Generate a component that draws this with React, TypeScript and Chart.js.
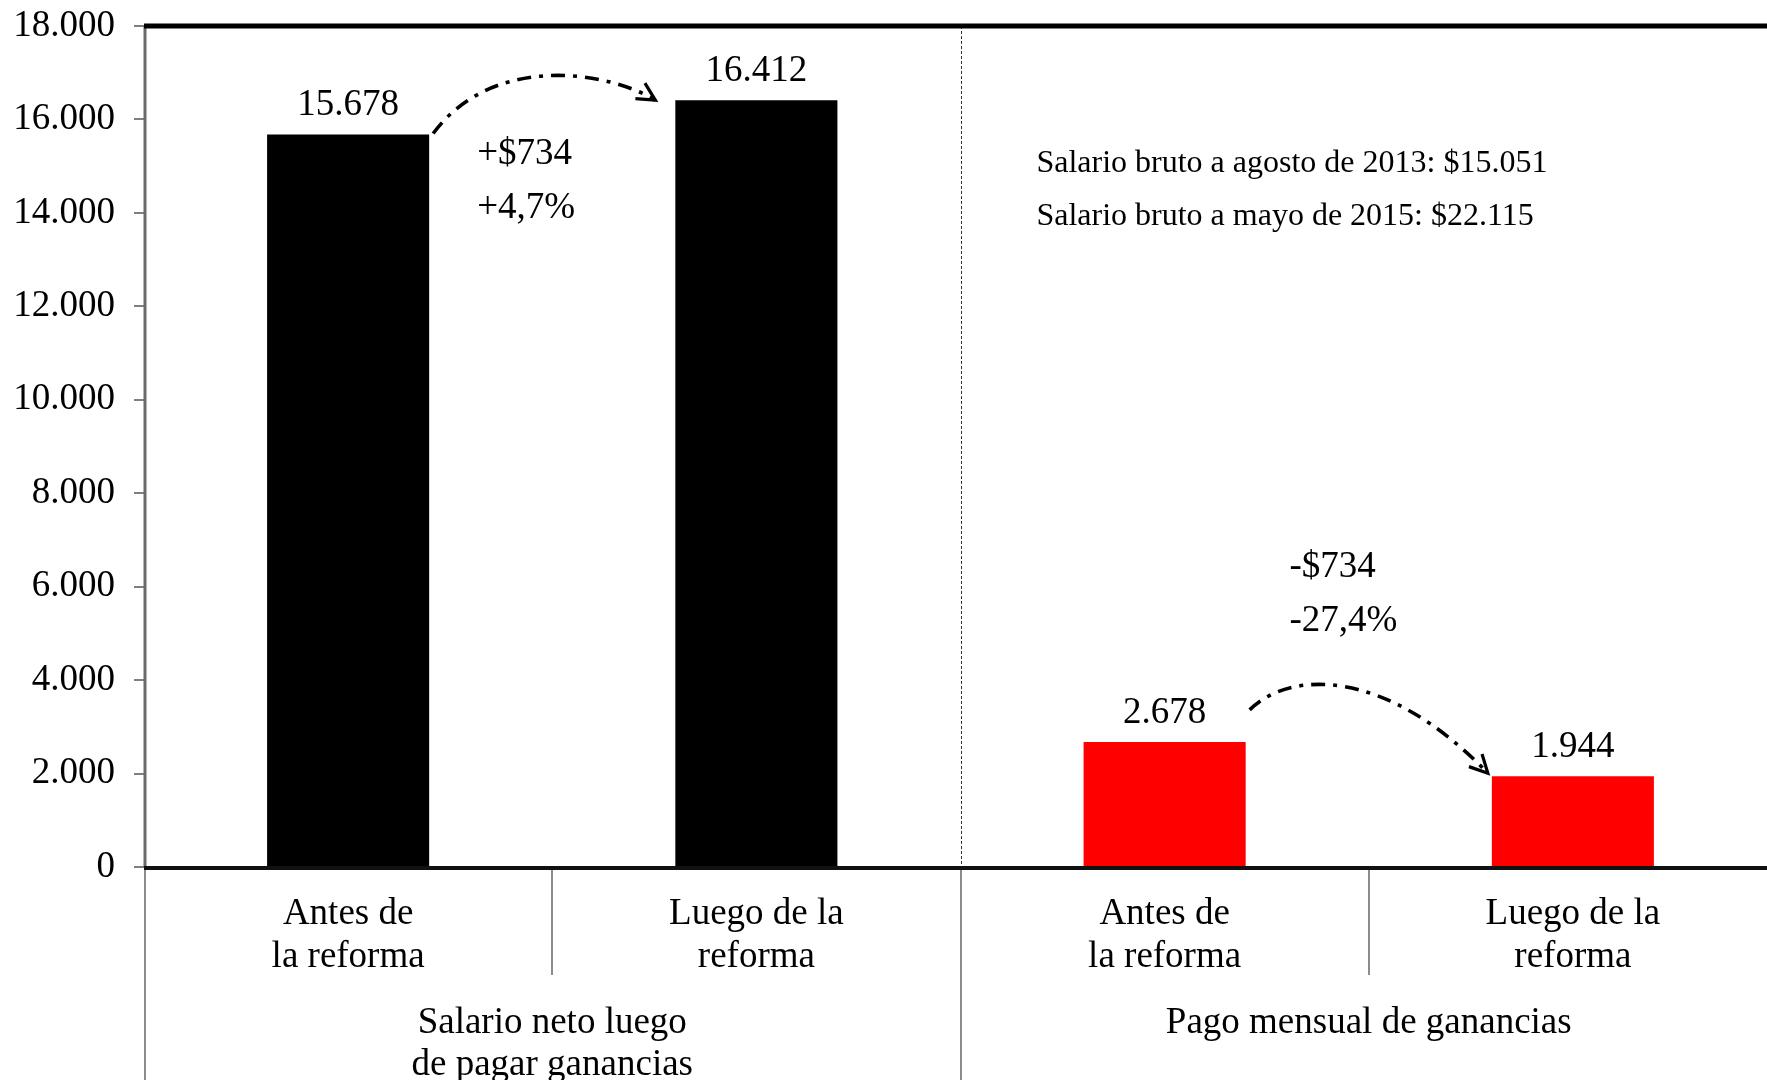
import React, { useEffect, useRef } from "react";
import { Chart, registerables } from "chart.js";

Chart.register(...registerables);

// ---- data ----
const categories: string[][] = [
  ["Antes de", "la reforma"],
  ["Luego de la", "reforma"],
  ["Antes de", "la reforma"],
  ["Luego de la", "reforma"],
];
const values: number[] = [15678, 16412, 2678, 1944];
const barColors: string[] = ["#000000", "#000000", "#FF0000", "#FF0000"];
const yTicksMax = 18000;
const yTicksStep = 2000;
const groupLabels: string[][] = [
  ["Salario neto luego", "de pagar ganancias"],
  ["Pago mensual de ganancias"],
];
const groupSpans: number[][] = [
  [0, 1],
  [2, 3],
];
const changeTexts: string[] = ["+$734", "+4,7%", "-$734", "-27,4%"];
const noteTexts: string[] = [
  "Salario bruto a agosto de 2013: $15.051",
  "Salario bruto a mayo de 2015: $22.115",
];

// ---- layout / style (not data) ----
const FONT = "'Liberation Serif', 'Times New Roman', serif";
const MAIN_SIZE = 37;
const NOTE_SIZE = 32;
// [category index position, value position] for text centers (left aligned)
const changePos: number[][] = [
  [0.316, 15300],
  [0.316, 14150],
  [2.306, 6456],
  [2.306, 5300],
];
const notePos: number[][] = [
  [1.686, 15090],
  [1.686, 13960],
];

const fmt = (v: number) =>
  String(Math.round(v)).replace(/\B(?=(\d{3})+(?!\d))/g, ".");

function drawArrow(
  ctx: CanvasRenderingContext2D,
  p0: number[],
  p1: number[],
  p2: number[],
  p3: number[]
) {
  ctx.save();
  ctx.strokeStyle = "#000";
  ctx.lineWidth = 3.6;
  ctx.setLineDash([14, 8, 4, 8]);
  ctx.beginPath();
  ctx.moveTo(p0[0], p0[1]);
  ctx.bezierCurveTo(p1[0], p1[1], p2[0], p2[1], p3[0], p3[1]);
  ctx.stroke();
  ctx.setLineDash([]);
  const ang = Math.atan2(p3[1] - p2[1], p3[0] - p2[0]);
  const len = 20;
  const spread = (27 * Math.PI) / 180;
  ctx.lineWidth = 3.2;
  ctx.beginPath();
  ctx.moveTo(p3[0] - len * Math.cos(ang - spread), p3[1] - len * Math.sin(ang - spread));
  ctx.lineTo(p3[0], p3[1]);
  ctx.lineTo(p3[0] - len * Math.cos(ang + spread), p3[1] - len * Math.sin(ang + spread));
  ctx.stroke();
  ctx.restore();
}

const decorPlugin = {
  id: "decor",
  afterDatasetsDraw(chart: any) {
    const ctx: CanvasRenderingContext2D = chart.ctx;
    const { left, top, bottom } = chart.chartArea;
    const xs = chart.scales.x;
    const ys = chart.scales.y;
    const H = chart.height;
    const W = chart.width;
    const meta = chart.getDatasetMeta(0);
    const bars = meta.data as any[];

    ctx.save();
    // dotted separator inside the plot between the two groups
    const midX = Math.round(xs.getPixelForValue(1.5)) + 0.5;
    ctx.strokeStyle = "#333";
    ctx.lineWidth = 1;
    ctx.setLineDash([3, 2]);
    ctx.beginPath();
    ctx.moveTo(midX, top);
    ctx.lineTo(midX, bottom);
    ctx.stroke();
    ctx.setLineDash([]);

    // separators below the axis
    ctx.strokeStyle = "#8c8c8c";
    ctx.lineWidth = 2;
    [0.5, 2.5].forEach((b) => {
      const x = Math.round(xs.getPixelForValue(b));
      ctx.beginPath();
      ctx.moveTo(x, bottom);
      ctx.lineTo(x, bottom + 108);
      ctx.stroke();
    });
    [1.5, 3.5].forEach((b) => {
      const x = Math.round(xs.getPixelForValue(b));
      ctx.beginPath();
      ctx.moveTo(x, bottom);
      ctx.lineTo(x, H);
      ctx.stroke();
    });
    // y axis line (continues below)
    ctx.beginPath();
    ctx.moveTo(left + 1, bottom);
    ctx.lineTo(left + 1, H);
    ctx.stroke();
    ctx.strokeStyle = "#6a6a6a";
    ctx.lineWidth = 3;
    ctx.beginPath();
    ctx.moveTo(left + 1, top);
    ctx.lineTo(left + 1, bottom);
    ctx.stroke();

    // zero line
    ctx.strokeStyle = "#111";
    ctx.lineWidth = 4;
    ctx.beginPath();
    ctx.moveTo(left, bottom + 1);
    ctx.lineTo(W, bottom + 1);
    ctx.stroke();
    // top border
    ctx.strokeStyle = "#000";
    ctx.lineWidth = 5;
    ctx.beginPath();
    ctx.moveTo(left, top);
    ctx.lineTo(W, top);
    ctx.stroke();

    // group labels
    ctx.fillStyle = "#000";
    ctx.textAlign = "center";
    ctx.textBaseline = "alphabetic";
    ctx.font = `${MAIN_SIZE}px ${FONT}`;
    groupLabels.forEach((lines, gi) => {
      const [a, b] = groupSpans[gi];
      const cx = (xs.getPixelForValue(a) + xs.getPixelForValue(b)) / 2;
      lines.forEach((ln, li) => {
        ctx.fillText(ln, cx, bottom + 166 + li * 42);
      });
    });

    // value labels
    bars.forEach((bar, i) => {
      ctx.fillText(fmt(values[i]), bar.x, bar.y - 19);
    });

    // change annotations
    ctx.textAlign = "left";
    changeTexts.forEach((t, i) => {
      const [ix, v] = changePos[i];
      ctx.fillText(t, xs.getPixelForValue(ix), ys.getPixelForValue(v) + 12);
    });
    ctx.font = `${NOTE_SIZE}px ${FONT}`;
    noteTexts.forEach((t, i) => {
      const [ix, v] = notePos[i];
      ctx.fillText(t, xs.getPixelForValue(ix), ys.getPixelForValue(v) + 10.5);
    });

    // arrows
    const b0 = bars[0], b1 = bars[1], b2 = bars[2], b3 = bars[3];
    {
      const p0 = [b0.x + b0.width / 2 + 4, b0.y - 1];
      const p3 = [b1.x - b1.width / 2 - 20, b1.y];
      drawArrow(ctx, p0, [p0[0] + 60, p0[1] - 81], [p3[0] - 47, p3[1] - 29], p3);
    }
    {
      const p0 = [b2.x + b2.width / 2 + 4, b2.y - 32];
      const p3 = [b3.x - b3.width / 2 - 4, b3.y - 3];
      drawArrow(ctx, p0, [p0[0] + 40, p0[1] - 40], [p3[0] - 102, p3[1] - 106], p3);
    }
    ctx.restore();
  },
};

export default function App() {
  const ref = useRef<HTMLCanvasElement | null>(null);
  useEffect(() => {
    if (!ref.current) return;
    const chart = new Chart(ref.current, {
      type: "bar",
      data: {
        labels: categories as any,
        datasets: [
          {
            data: values,
            backgroundColor: barColors,
            borderWidth: 0,
            barPercentage: 0.397,
            categoryPercentage: 1,
          },
        ],
      },
      options: {
        responsive: false,
        animation: false,
        devicePixelRatio: 1,
        layout: { padding: { top: 26, right: 13, left: 0, bottom: 0 } },
        plugins: { legend: { display: false }, tooltip: { enabled: false } },
        scales: {
          x: {
            grid: { display: false, drawTicks: false },
            border: { display: false },
            ticks: {
              color: "#000",
              font: { family: FONT, size: MAIN_SIZE, lineHeight: 1.16 },
              padding: 26,
              autoSkip: false,
              maxRotation: 0,
              minRotation: 0,
            },
            afterFit: (s: any) => {
              s.height = 213;
            },
          } as any,
          y: {
            min: 0,
            max: yTicksMax,
            ticks: {
              stepSize: yTicksStep,
              color: "#000",
              font: { family: FONT, size: MAIN_SIZE },
              padding: 19,
              callback: (v: any) => fmt(Number(v)),
            },
            grid: {
              drawOnChartArea: false,
              drawTicks: true,
              tickLength: 10,
              color: "#7f7f7f",
              lineWidth: 2,
            },
            border: { display: false },
            afterFit: (s: any) => {
              s.width = 144;
              s.paddingTop = 20;
              s.paddingBottom = 0;
            },
          } as any,
        },
      },
      plugins: [decorPlugin],
    });
    return () => chart.destroy();
  }, []);
  return (
    <div
      style={{
        position: "fixed",
        left: 0,
        top: 0,
        width: 1767,
        height: 1080,
        overflow: "hidden",
        background: "#fff",
      }}
    >
      <canvas ref={ref} width={1790} height={1080} style={{ display: "block" }} />
    </div>
  );
}
